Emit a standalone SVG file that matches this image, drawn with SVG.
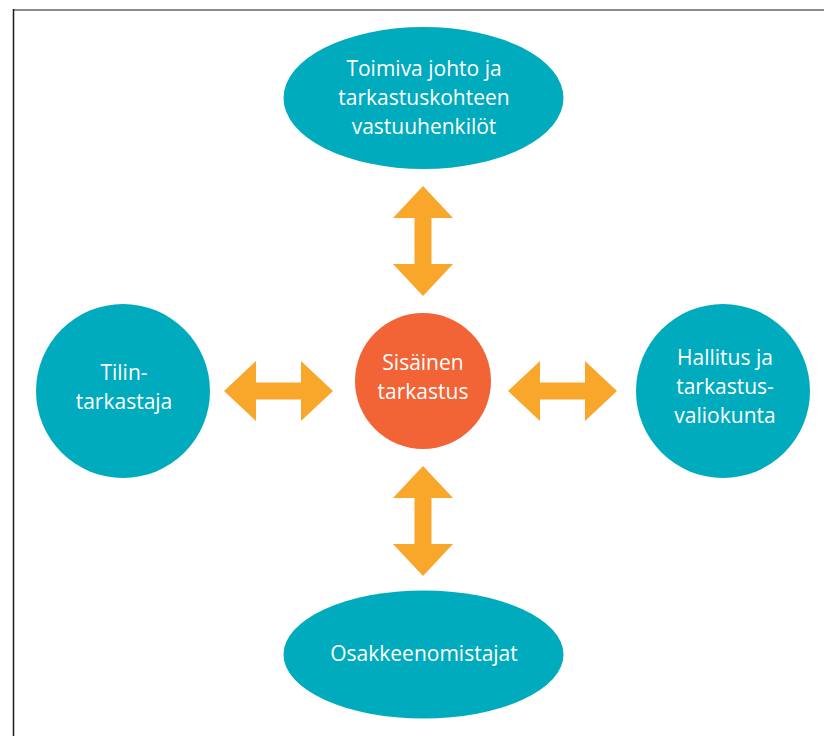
<svg xmlns="http://www.w3.org/2000/svg" width="824" height="736" viewBox="0 0 824 736">
<defs>
<style>
.node{fill:#00ABBE}
.core{fill:#F26336}
.arr{fill:#F9A72B}
.t{font-family:"Open Sans","Noto Sans","Liberation Sans",sans-serif;font-size:21px;fill:#FFFFFF;text-anchor:middle}
</style>
</defs>
<rect x="0" y="0" width="824" height="736" fill="#FFFFFF"/>
<line x1="13" y1="10" x2="824" y2="10" stroke="#8C8C8C" stroke-width="2"/>
<line x1="13.5" y1="9" x2="13.5" y2="736" stroke="#1A1A1A" stroke-width="1.5"/>
<g id="connectors">
<path class="arr" d="M423,186 L453,218 L431.5,218 L431.5,264 L453,264 L423,296 L393,264 L414.5,264 L414.5,218 L393,218 Z"/>
<path class="arr" d="M423,466 L453,498 L431.5,498 L431.5,544 L453,544 L423,576 L393,544 L414.5,544 L414.5,498 L393,498 Z"/>
<path class="arr" d="M224,391 L256,361 L256,382.5 L301,382.5 L301,361 L333,391 L301,421 L301,399.5 L256,399.5 L256,421 Z"/>
<path class="arr" d="M508,391 L540,361 L540,382.5 L585,382.5 L585,361 L617,391 L585,421 L585,399.5 L540,399.5 L540,421 Z"/>
</g>
<g id="node-top">
<ellipse class="node" cx="423.5" cy="98" rx="140" ry="71"/>
<text class="t" x="424" y="76">Toimiva johto ja</text>
<text class="t" x="424" y="105">tarkastuskohteen</text>
<text class="t" x="424" y="134">vastuuhenkilöt</text>
</g>
<g id="node-center">
<circle class="core" cx="423" cy="381" r="68"/>
<text class="t" x="423" y="370">Sisäinen</text>
<text class="t" x="423" y="399">tarkastus</text>
</g>
<g id="node-left">
<circle class="node" cx="123" cy="391" r="87"/>
<text class="t" x="124" y="380">Tilin-</text>
<text class="t" x="124" y="409">tarkastaja</text>
</g>
<g id="node-right">
<circle class="node" cx="723" cy="391" r="87"/>
<text class="t" x="725" y="365">Hallitus ja</text>
<text class="t" x="725" y="394">tarkastus-</text>
<text class="t" x="725" y="423">valiokunta</text>
</g>
<g id="node-bottom">
<ellipse class="node" cx="423.5" cy="654.5" rx="140" ry="64"/>
<text class="t" x="424" y="661">Osakkeenomistajat</text>
</g>
</svg>
